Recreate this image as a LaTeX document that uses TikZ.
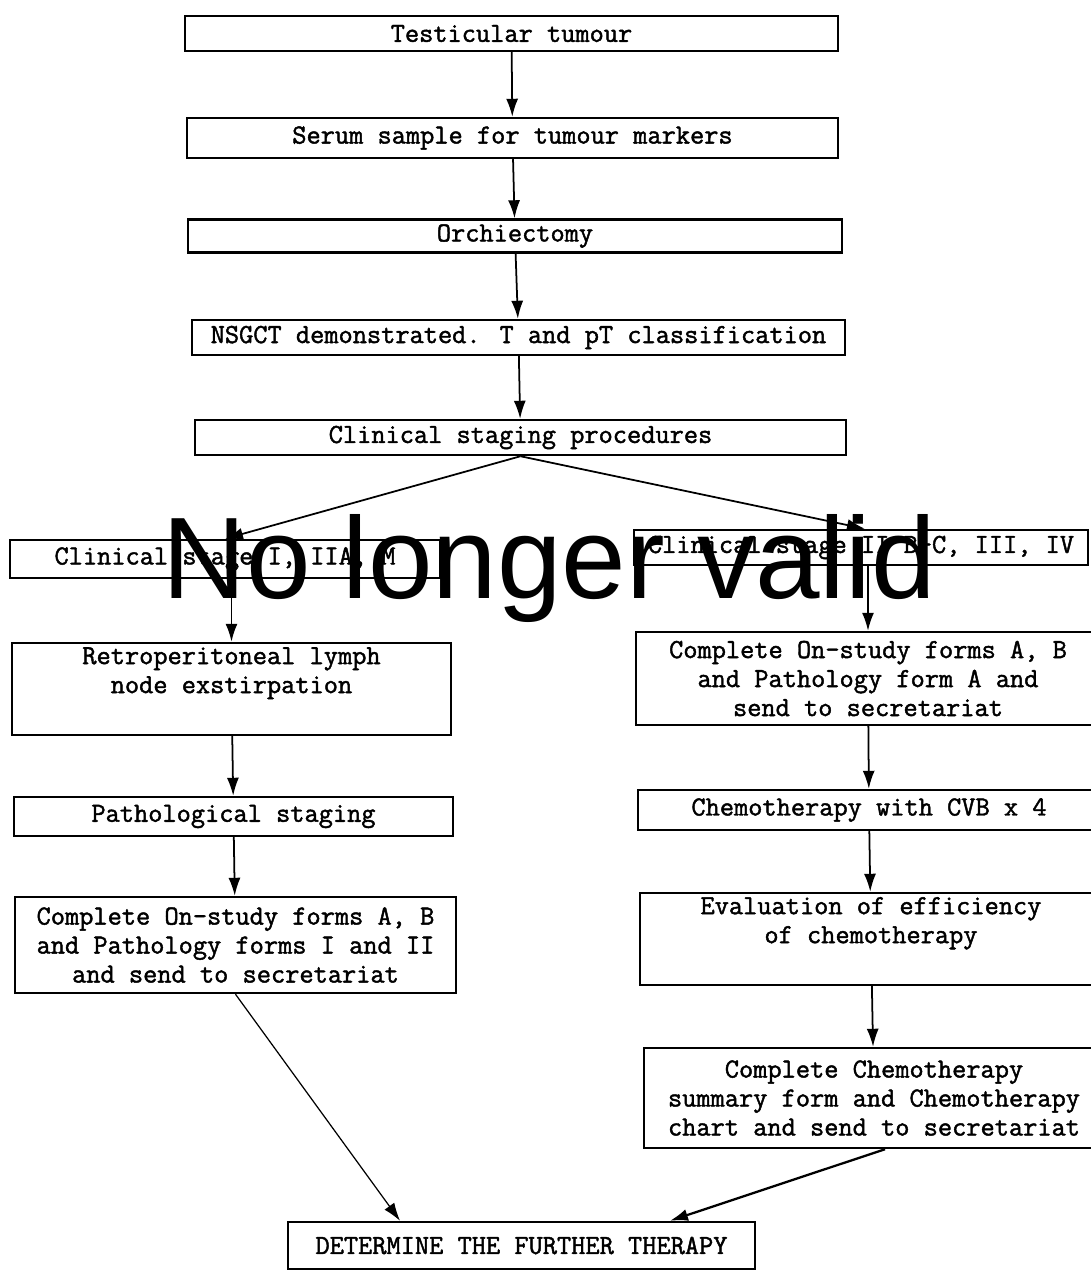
\documentclass[tikz,border=0pt]{standalone}
\usepackage{fontspec}
\newfontfamily\stampfont{Liberation Sans}
\newfontfamily\boxfont{Latin Modern Mono}[FakeBold=1.6]
\usepackage{tikz}
\usetikzlibrary{arrows.meta}

\begin{document}
\begin{tikzpicture}[x=0.02cm,y=-0.02cm,
    box/.style={draw,line width=1.4pt,inner sep=2pt,align=center,
      font=\boxfont\bfseries\fontsize{15.7}{16.5}\selectfont},
    arr/.style={line width=1pt,-{Latex[length=3.6mm,width=2.4mm]}},
    stamp/.style={inner sep=0pt,font=\stampfont\fontsize{66}{70}\selectfont}]
		\useasboundingbox (0,0) rectangle (1091,1272);

		% Main line
		\node[box,minimum width=13.06cm,minimum height=0.7cm] (tumour) at (511.5,33.5) {Testicular tumour};
		\node[box,minimum width=13.02cm,minimum height=0.8cm] (serum) at (512.5,138) {Serum sample for tumour markers};
		\node[box,minimum width=13.08cm,minimum height=0.66cm] (orch) at (515,236) {Orchiectomy};
		\node[box,minimum width=13.06cm,minimum height=0.7cm] (nsgct) at (518.5,337.5) {NSGCT demonstrated. T and pT classification};
		\node[box,minimum width=13.02cm,minimum height=0.7cm] (staging) at (520.5,437.5) {Clinical staging procedures};

		% Left branch
		\node[box,minimum width=8.6cm,minimum height=0.76cm] (lstage) at (225,559) {Clinical stage I, IIA, M};
		\node[box,minimum width=8.78cm,minimum height=1.84cm] (retro) at (231.5,689) {Retroperitoneal lymph\\node exstirpation\\\strut};
		\node[box,minimum width=8.78cm,minimum height=0.78cm] (patho) at (233.5,816.5) {Pathological staging};
		\node[box,minimum width=8.82cm,minimum height=1.92cm] (ldoc) at (235.5,945) {Complete On-study forms A, B\\and Pathology forms I and II\\and send to secretariat};

		% Right branch
		\node[box,minimum width=9.08cm,minimum height=0.7cm] (rstage) at (861,547.5) {Clinical stage II B-C, III, IV};
		\node[box,minimum width=9.28cm,minimum height=1.86cm] (rdoc) at (868,678.5) {Complete On-study forms A, B\\and Pathology form A and\\send to secretariat};
		\node[box,minimum width=9.24cm,minimum height=0.8cm] (chemo) at (869,810) {Chemotherapy with CVB x 4};
		\node[box,minimum width=9.24cm,minimum height=1.84cm] (evalu) at (871,939) {Evaluation of efficiency\\of chemotherapy\\\strut};
		\node[box,minimum width=9.2cm,minimum height=2cm] (chart) at (874,1098) {Complete Chemotherapy\\summary form and Chemotherapy\\chart and send to secretariat};

		% Final step
		\node[box,minimum width=9.34cm,minimum height=0.94cm] (final) at (521.5,1245.5) {DETERMINE THE FURTHER THERAPY};
		\coordinate (finL) at ([xshift=-2.43cm]final.north);
		\coordinate (finR) at ([xshift=2.97cm]final.north);
		\coordinate (chartOut) at ([xshift=0.22cm]chart.south);

		% Arrows
		\draw[arr] (tumour) -- (serum);
		\draw[arr] (serum) -- (orch);
		\draw[arr] (orch) -- (nsgct);
		\draw[arr] (nsgct) -- (staging);
		\draw[arr] (staging.south) -- (lstage.north);
		\draw[arr] (staging.south) -- ([xshift=0.08cm]rstage.north);
		\draw[arr] (lstage.south -| retro) -- (retro.north);
		\draw[arr] (retro) -- (patho);
		\draw[arr] (patho) -- (ldoc);
		\draw[arr] (rstage.south -| rdoc) -- (rdoc.north);
		\draw[arr] (rdoc) -- (chemo);
		\draw[arr] (chemo) -- (evalu);
		\draw[arr] (evalu) -- (chart);
		\draw[arr,line width=0.7pt] (ldoc.south) -- (finL);
		\draw[arr,line width=1.3pt] (chartOut) -- (finR);

		% Overlay
		\node[stamp,anchor=base west] (notice) at (162,598) {No longer valid};
	\end{tikzpicture}
\end{document}
